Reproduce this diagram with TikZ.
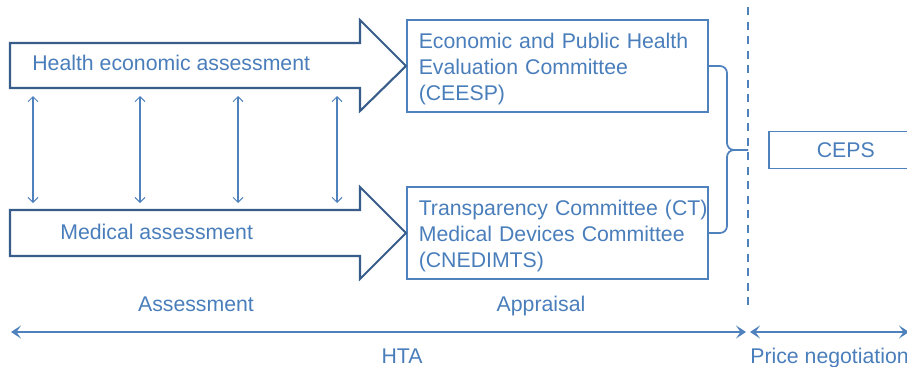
\documentclass[tikz,border=0pt]{standalone}
\usepackage{fontspec}
\setmainfont{Liberation Sans}
\usetikzlibrary{arrows.meta,positioning}
\definecolor{txtblue}{RGB}{74,126,187}
\definecolor{darkblue}{RGB}{56,93,138}
\definecolor{lineblue}{RGB}{79,129,189}

\tikzstyle{bigarrow}=[draw=darkblue,line width=1.2pt,fill=white,line join=miter]
\tikzstyle{committee}=[rectangle,draw=lineblue,line width=0.9pt,text width=55.4mm,inner xsep=2.4mm,minimum height=18.4mm,align=left,anchor=west,text=txtblue,execute at begin node={\rule{0pt}{12.5pt}}]
\tikzstyle{caption}=[text=txtblue,inner sep=0pt]
\tikzstyle{link}=[draw=lineblue,line width=0.6pt,{Straight Barb[length=1mm,width=2mm]}-{Straight Barb[length=1mm,width=2mm]}]
\tikzstyle{brace}=[draw=lineblue,line width=1pt,rounded corners=1.4mm]
\tikzstyle{divider}=[draw=lineblue,line width=1.1pt,dash pattern=on 1.6mm off 1.3mm]
\tikzstyle{span}=[draw=lineblue,line width=1.2pt,{Stealth[length=2mm,width=2.6mm,inset=0.9mm]}-{Stealth[length=2mm,width=2.6mm,inset=0.9mm]}]

\begin{document}
\begin{tikzpicture}[x=0.2mm,y=-0.2mm,font=\fontsize{12.1}{14.8}\selectfont]
\useasboundingbox(0,0) rectangle (907,367);
\clip(0,0) rectangle (907,367);
% committees and CEPS
\node(ceesp)[committee] at (406,66) {Economic and Public Health\\Evaluation Committee\\(CEESP)};
\node(ct)[committee] at (406,233) {\mbox{Transparency Committee (CT)}\\Medical Devices Committee\\(CNEDIMTS)};
\node(ceps)[rectangle,draw=lineblue,line width=0.9pt,minimum width=30.8mm,minimum height=7.4mm,anchor=west,text=txtblue] at (768,150) {CEPS};
% assessment arrows
\draw[bigarrow] (10,43) -- (360,43) -- (360,20) -- (ceesp.west) -- (360,111) -- (360,88) -- (10,88) -- cycle;
\draw[bigarrow] (10,210) -- (360,210) -- (360,187) -- (ct.west) -- (360,279) -- (360,256) -- (10,256) -- cycle;
\node(health)[caption,anchor=base west] at (32,70) {Health economic assessment};
\node(medical)[caption,anchor=base west] at (60,239) {Medical assessment};
\foreach \x [count=\i] in {33,140,238,337}{
  \coordinate (up\i) at (\x,96);
  \coordinate (down\i) at (\x,203);
  \draw[link] (up\i) -- (down\i);
}
% brace to price negotiation
\coordinate (bend) at (727,150);
\coordinate (join) at (748,150);
\draw[brace] (ceesp.east) -| (bend) -- (join);
\draw[brace] (ct.east) -| (bend) -- (join);
\coordinate (divtop) at (748,7);
\coordinate (divbot) at (748,308);
\draw[divider] (divtop) -- (divbot);
% phases
\node(assessment)[caption,anchor=base] at (196,311) {Assessment};
\node(appraisal)[caption,anchor=base] at (541,311) {Appraisal};
\coordinate (htastart) at (11,332);
\coordinate (htaend) at (746,332);
\coordinate (pricestart) at (750,332);
\coordinate (priceend) at (909,332);
\draw[span] (htastart) -- (htaend);
\draw[span] (pricestart) -- (priceend);
\node(hta)[caption,anchor=base] at (402,363) {HTA};
\node(price)[caption,anchor=base west] at (750,363) {Price negotiation};
\end{tikzpicture}
\end{document}
